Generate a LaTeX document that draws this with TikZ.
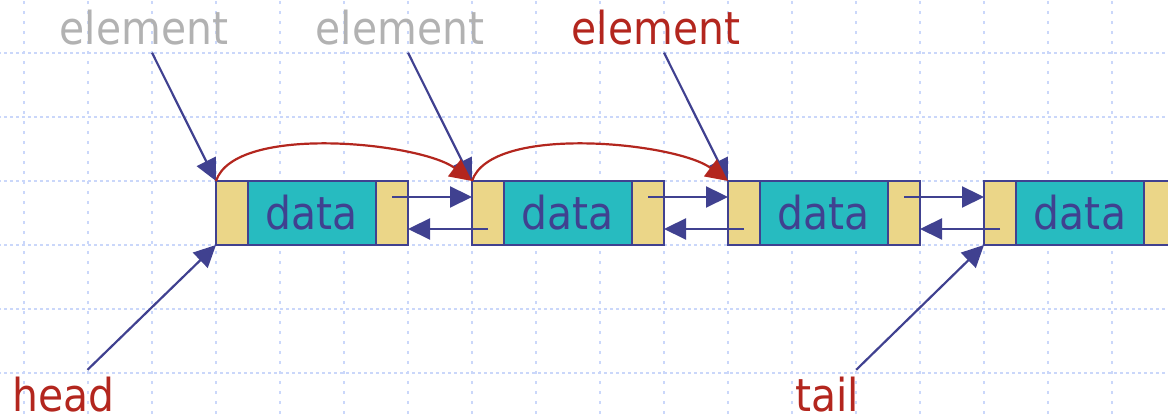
\documentclass[tikz,border=0pt]{standalone}
\usepackage{fontspec}
\setmainfont{DejaVu Sans}[FakeStretch=0.9]
\usepackage{tikz}
\usetikzlibrary{positioning, arrows.meta}
\definecolor{gridblue}{RGB}{202,215,250}
\definecolor{ptryellow}{RGB}{235,214,136}
\definecolor{datateal}{RGB}{39,187,192}
\definecolor{linkblue}{RGB}{64,65,144}
\definecolor{elemred}{RGB}{179,38,30}
\definecolor{elemgray}{RGB}{178,178,178}

\begin{document}
\begin{tikzpicture}[
  x=32pt, y=32pt,
  bigtext/.style={font=\fontsize{22.7pt}{27pt}\selectfont},
  ptrbox/.style={draw=linkblue, line width=1.3pt, fill=ptryellow, minimum width=16pt,
                 minimum height=32pt, inner sep=0pt, outer sep=0pt},
  databox/.style={ptrbox, fill=datateal, minimum width=64pt, text=linkblue, bigtext},
  link/.style={draw=linkblue, line width=1.1pt, -{Triangle[length=11pt,width=10.5pt]}},
  jump/.style={draw=elemred, line width=1.1pt, -{Triangle[length=11pt,width=10.5pt]}},
  hgrid/.style={gridblue, line width=1.3pt, dash pattern=on 1.4pt off 1.6pt},
  vgrid/.style={gridblue, line width=1.3pt, dash pattern=on 1.4pt off 3.6pt},
]
  \useasboundingbox (-0.375,-0.734) rectangle (17.875,5.828);
  \foreach \i in {0,...,17} {
    \draw[vgrid] (\i,-0.8) -- (\i,5.9);
  }
  \foreach \j in {0,...,5} {
    \draw[hgrid] (-0.4,\j) -- (17.9,\j);
  }
  \foreach \k/\x in {1/3, 2/7, 3/11, 4/15} {
    \node[ptrbox, anchor=west] (pv\k) at (\x,2.5) {};
    \node[databox, right=0pt of pv\k] (dt\k) {data};
    \node[ptrbox, right=0pt of dt\k] (nx\k) {};
  }
  \foreach \a/\b in {1/2, 2/3, 3/4} {
    \draw[link] ([yshift=8pt]nx\a.center) -- ([yshift=8pt]pv\b.west);
    \draw[link] ([yshift=-8pt]pv\b.center) -- ([yshift=-8pt]nx\a.east);
  }
  \node[bigtext, text=elemgray, anchor=base] (el1) at (1.875,5.125) {element};
  \node[bigtext, text=elemgray, anchor=base] (el2) at (5.875,5.125) {element};
  \node[bigtext, text=elemred, anchor=base] (el3) at (9.875,5.125) {element};
  \node[bigtext, text=elemred, anchor=base] (hd) at (0.617,-0.6) {head};
  \node[bigtext, text=elemred, anchor=base] (tl) at (12.55,-0.6) {tail};
  \draw[link] ([xshift=4pt]el1.south) -- (pv1.north west);
  \draw[link] ([xshift=4pt]el2.south) -- (pv2.north west);
  \draw[link] ([xshift=4pt]el3.south) -- (pv3.north west);
  \draw[link] ([xshift=12pt]hd.north) -- (pv1.south west);
  \draw[link] ([xshift=14.5pt]tl.north) -- (pv4.south west);
  \draw[jump] (pv1.north west) .. controls +(0.3,0.9) and +(-0.8,0.6) .. (pv2.north west);
  \draw[jump] (pv2.north west) .. controls +(0.3,0.9) and +(-0.8,0.6) .. (pv3.north west);
\end{tikzpicture}
\end{document}
